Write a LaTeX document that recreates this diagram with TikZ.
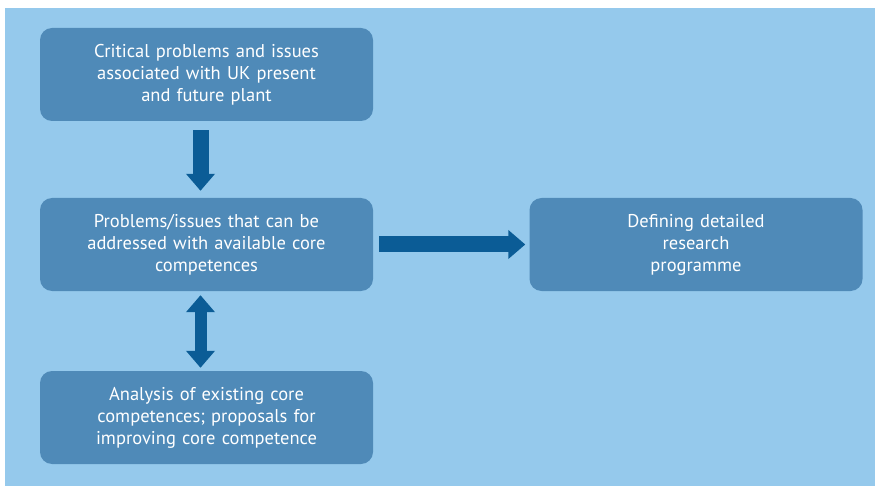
\documentclass[tikz,border=0pt]{standalone}
\usepackage{fontspec}
\setmainfont{PT Sans}
\usepackage{xcolor}
\usetikzlibrary{arrows.meta}
\definecolor{panelblue}{HTML}{95C9EC}
\definecolor{boxblue}{HTML}{4F8AB8}
\definecolor{arrowblue}{HTML}{0B5C96}
\tikzset{
  stagebox/.style={rectangle, rounded corners=12pt, fill=boxblue, text=white,
    minimum width=333pt, minimum height=93pt, inner sep=0pt, text width=310pt,
    align=center, font=\fontsize{18.5}{22}\selectfont},
  fatarrow/.style={draw=arrowblue, line width=16pt,
    -{Triangle[width=28pt,length=17pt]}},
  fatboth/.style={draw=arrowblue, line width=12pt,
    {Triangle[width=28pt,length=17pt]}-{Triangle[width=28pt,length=17pt]}}
}
\begin{document}
\begin{tikzpicture}[x=1pt, y=-1pt]
        \useasboundingbox (0, 0) rectangle (875, 486);
        \fill [panelblue] (5, 8) rectangle (875, 486);
        \node (critical) at (206.5, 74.5) [stagebox] {Critical problems and issues\\associated with UK present\\and future plant};
        \node (problems) at (206.5, 244.5) [stagebox] {Problems/issues that can be\\addressed with available core\\competences};
        \node (analysis) at (206.5, 417.5) [stagebox] {Analysis of existing core\\competences;\ proposals for\\improving core competence};
        \node (defining) at (696, 244.5) [stagebox] {Defining detailed\\research\\programme};
        \draw [fatarrow, shorten <=9pt, shorten >=7pt] ([xshift=-6pt]critical.south) -- ([xshift=-6pt]problems.north);
        \draw [fatboth, shorten <=4pt, shorten >=3pt] ([xshift=-6pt]problems.south) -- ([xshift=-6pt]analysis.north);
        \draw [fatarrow, shorten <=6pt, shorten >=4pt] (problems) -- (defining);
    \end{tikzpicture}
\end{document}
